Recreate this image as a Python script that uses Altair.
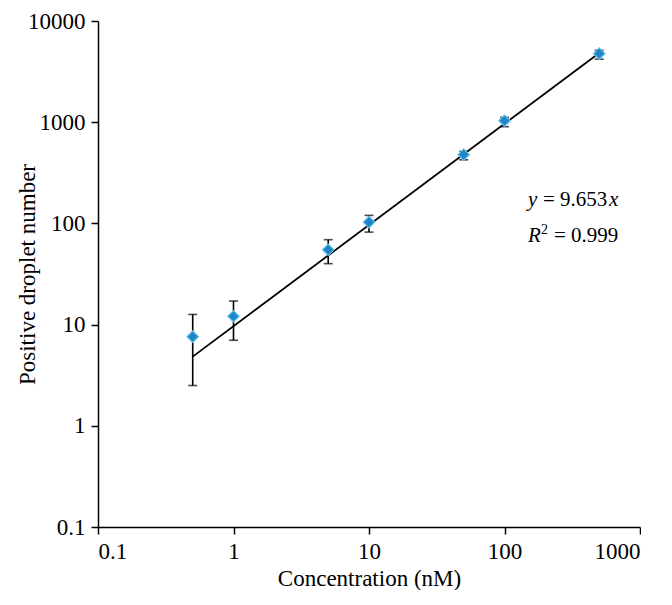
import altair as alt
import pandas as pd

# data
conc = [0.5, 1, 5, 10, 50, 100, 500]
mean = [7.6, 12.1, 55, 103, 478, 1035, 4760]
lower = [2.5, 7.0, 40, 82, 425, 903, 4200]
upper = [12.6, 17.1, 69, 120, 515, 1116, 5140]

slope = 9.653
fit_x = [0.5, 500]

x_ticks = [0.1, 1, 10, 100, 1000]
y_ticks = [0.1, 1, 10, 100, 1000, 10000]

FONT = "Liberation Serif"

df = pd.DataFrame({"conc": conc, "mean": mean, "lower": lower, "upper": upper})
fit = pd.DataFrame({"conc": fit_x, "val": [slope * v for v in fit_x]})

xs = alt.Scale(type="log", domain=[0.1, 1000], nice=False)
ys = alt.Scale(type="log", domain=[0.1, 10000], nice=False)

xax = alt.Axis(values=x_ticks, format="~g", title="Concentration (nM)", titlePadding=4)
yax = alt.Axis(values=y_ticks, format="~g", title="Positive droplet number", titlePadding=-12)

X = alt.X("conc:Q", scale=xs, axis=xax)

line = alt.Chart(fit).mark_line(color="black", strokeWidth=1.8).encode(
    x=X, y=alt.Y("val:Q", scale=ys, axis=yax)
)

rules = alt.Chart(df).mark_rule(color="black", strokeWidth=1.6).encode(
    x=X, y=alt.Y("lower:Q", scale=ys, axis=yax), y2="upper:Q"
)
cap_lo = alt.Chart(df).mark_tick(color="black", orient="horizontal", size=9, thickness=1.6).encode(
    x=X, y=alt.Y("lower:Q", scale=ys, axis=yax)
)
cap_hi = alt.Chart(df).mark_tick(color="black", orient="horizontal", size=9, thickness=1.6).encode(
    x=X, y=alt.Y("upper:Q", scale=ys, axis=yax)
)
pts = alt.Chart(df).mark_point(
    shape="diamond", filled=True, size=130, fill="#1f86c6", stroke="#62bfe9", strokeWidth=1.2, opacity=1
).encode(x=X, y=alt.Y("mean:Q", scale=ys, axis=yax))

# annotation
ann_x = [149]
ann1_y = [147]
ann2_y = [65]
a1 = pd.DataFrame({"conc": ann_x, "val": ann1_y})
a2 = pd.DataFrame({"conc": ann_x, "val": ann2_y})

def txt(d, s, dx, dy=0, italic=False, size=21):
    return alt.Chart(d).mark_text(
        text=s, align="left", baseline="alphabetic", dx=dx, dy=dy,
        font=FONT, fontSize=size, fontStyle="italic" if italic else "normal", color="black"
    ).encode(x=alt.X("conc:Q", scale=xs, axis=xax), y=alt.Y("val:Q", scale=ys, axis=yax))

anns = [
    txt(a1, "y", 0, italic=True),
    txt(a1, "= 9.653", 15),
    txt(a1, "x", 81, italic=True),
    txt(a2, "R", 0, italic=True),
    txt(a2, "2", 13, dy=-8, size=14),
    txt(a2, "= 0.999", 26),
]

chart = alt.layer(line, rules, cap_lo, cap_hi, pts, *anns).properties(
    width=542, height=506,
    padding={"left": 8, "top": 2, "right": 0, "bottom": 0},
).configure_view(stroke=None).configure_axis(
    grid=False, domainColor="black", domainWidth=1.5, tickColor="black", tickWidth=1.5,
    tickSize=7, labelFont=FONT, labelFontSize=23, labelColor="black",
    titleFont=FONT, titleFontSize=23, titleFontWeight="normal", titleColor="black",
    labelPadding=6,
)

chart.save("out.html", embed_options={"renderer": "svg", "actions": False})
